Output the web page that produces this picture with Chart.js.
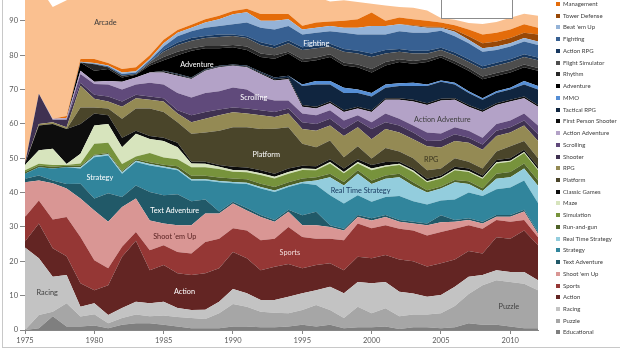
<!DOCTYPE html>
<html>
<head>
<meta charset="utf-8">
<script src="https://cdn.jsdelivr.net/npm/chart.js@4.4.1/dist/chart.umd.min.js"></script>
<style>
  html, body { margin: 0; padding: 0; background: #fff; }
  body { width: 620px; height: 350px; overflow: hidden; position: relative; font-family: Lato, "Open Sans", sans-serif; }
  #wrap { position: absolute; left: 0; top: -20px; width: 560px; height: 370px; }
  #frame { position: absolute; left: 2px; top: -2px; width: 700px; height: 349px; border-left: 1px solid #c8c8c8; border-bottom: 1px solid #c8c8c8; }
  #box { position: absolute; left: 441px; top: -2px; width: 70px; height: 19px; background: #fff; border: 1px solid #8c8c8c; }
  #legend { position: absolute; left: 556px; top: 0; width: 80px; height: 350px; }
  .item { position: absolute; left: 0; height: 8px; white-space: nowrap; font-size: 6px; line-height: 8px; color: #404040; }
  .item i { position: absolute; left: 0; top: 2px; width: 4px; height: 4px; }
  .item span { position: absolute; left: 7px; top: 0; }
</style>
</head>
<body>
<div id="frame"></div>
<div id="wrap"><canvas id="chart" width="560" height="370"></canvas></div>
<div id="box"></div>
<div id="legend"></div>
<script>
// years on the x axis
const years = [1975, 1976, 1977, 1978, 1979, 1980, 1981, 1982, 1983, 1984, 1985, 1986, 1987, 1988, 1989,
    1990, 1991, 1992, 1993, 1994, 1995, 1996, 1997, 1998, 1999, 2000, 2001, 2002, 2003, 2004,
    2005, 2006, 2007, 2008, 2009, 2010, 2011, 2012];

// top edge of every band (%), bottom band first
const educational = [0, 0.5, 4, 1, 1, 1.3, 0.5, 1.5, 2, 2, 1.5, 1, 0.5, 0.5, 0.5, 1, 1, 0.8, 0.8, 1, 1.5, 1, 1.5, 0.5, 0.8, 0.8, 1, 0.3, 0.8, 0.8, 0.5, 0.8, 2, 1.5, 1.5, 1, 0.5, 0.5];
const puzzle = [0, 4.4, 5.3, 7.8, 3.9, 4.6, 2, 3.5, 4.5, 4, 4.2, 3.8, 3.5, 3.2, 4.9, 7.6, 6.8, 5.3, 5, 4.9, 5.8, 7.3, 5.8, 3.5, 6.8, 4.9, 6.3, 4, 4.5, 4.5, 4.9, 7, 10.5, 13, 14.5, 14, 13.5, 11.6];
const racing = [24, 20.9, 15.5, 16, 6.8, 7.8, 4.4, 6.4, 8.2, 7.8, 8.2, 6.4, 5.8, 5.9, 8.2, 11.9, 10.7, 8.7, 8.7, 9.7, 10.7, 11.6, 12.6, 10.7, 14, 13.6, 14, 11.1, 10.6, 9.7, 10.2, 12.6, 15.5, 16, 17.4, 16.9, 16.9, 14.5];
const action = [25.8, 31, 23.8, 21.5, 13.6, 11.6, 13, 21.3, 26, 17.4, 18.9, 16.5, 16, 16.5, 18, 22.7, 20.9, 17.4, 18.4, 19.2, 18, 18.9, 19.4, 17.4, 21.3, 20.9, 21.8, 20.5, 20, 18.5, 19.4, 20.5, 23, 22.3, 27, 26.6, 29, 24.7];
const sports = [32.9, 37.7, 32.2, 32.9, 27.1, 20.3, 18, 24.2, 28.5, 23.2, 24.7, 22.7, 22.3, 25.6, 26.6, 29.6, 29, 26.1, 26.6, 30, 27.1, 26.6, 26.6, 26.1, 31, 29.6, 30.5, 29.5, 29, 27.5, 28.5, 29.5, 30.5, 29.5, 32, 31.5, 32, 27];
const shootEmUp = [43, 43.5, 42.7, 41.2, 38.3, 34.8, 31.5, 35.8, 38.3, 31.9, 31, 30.5, 30.5, 33.9, 33.9, 36.8, 34.8, 32.9, 31.5, 34.4, 30.5, 30.5, 30, 29, 32.9, 31.9, 32.9, 31.5, 31, 30.5, 31.4, 31.5, 32, 31, 33, 33, 34.5, 28];
const textAdventure = [44, 45, 43.5, 42.5, 42.6, 38.3, 39.8, 38.7, 42.1, 40.2, 39.2, 39.5, 37.5, 38, 34.5, 37.3, 35.5, 33.5, 32, 35, 33.4, 34.4, 30.5, 29.5, 33.5, 32.5, 33.5, 32, 31.5, 31, 33.4, 32, 32.5, 31.5, 33.5, 33.5, 35, 28.5];
const strategy = [45.5, 47.4, 47, 47.4, 47, 50.3, 50.8, 45.5, 48.9, 47.9, 47.2, 46.5, 43.5, 43.5, 43, 42.7, 42.5, 41.2, 40.2, 41.6, 42.7, 42.2, 39.2, 36.8, 39.2, 37.3, 38.7, 39, 37.5, 36.5, 37.7, 38, 40, 39, 41, 41.5, 43.5, 37];
const realTimeStrategy = [45.5, 47.4, 47, 47.4, 47.4, 50.7, 51.2, 45.9, 49.3, 48.3, 47.6, 46.9, 43.9, 43.9, 43.4, 43.1, 42.9, 41.6, 40.6, 42, 43.1, 43.5, 44.5, 42.1, 45.5, 42.5, 44, 44.5, 42, 40, 41.2, 43, 42.5, 40.5, 44, 44.5, 47, 42];
const runAndGun = [46, 47.9, 47.5, 47.8, 47.8, 51, 51.5, 46.3, 49.7, 48.8, 48.1, 47.7, 44.9, 44.9, 44.4, 44.1, 43.9, 42.6, 41.6, 43, 44.1, 44.5, 45.5, 43.1, 46.5, 43.5, 45, 45.5, 43, 40.7, 41.8, 43.7, 43.3, 41.3, 45.5, 46, 48.5, 43.5];
const simulation = [46.5, 48.4, 48, 48, 48.5, 54.2, 54.5, 48.3, 50.5, 51.5, 50.2, 49.7, 47.4, 47.4, 46.9, 46.1, 45.9, 45.1, 44.1, 45.5, 46.6, 46.5, 48.5, 45.6, 48.5, 46.5, 47.5, 48, 46, 43, 44.1, 46.5, 46, 44, 48.5, 49, 51.5, 46.5];
const maze = [48, 52.3, 52.8, 48.3, 51.3, 59.5, 60, 53.2, 57.1, 55.6, 55, 53.2, 48.5, 48.4, 47.5, 46.6, 46.4, 45.6, 44.6, 46, 47, 46.9, 48.9, 46, 48.9, 47, 47.9, 48.4, 46.4, 43.3, 44.4, 46.8, 46.3, 44.3, 48.8, 49.3, 51.8, 46.8];
const classicGames = [48.5, 59.5, 60, 58.5, 60, 63, 62.5, 56, 58, 56.5, 56, 54.5, 49, 49, 48, 47.5, 47.3, 46.5, 45.5, 47, 47.8, 47.7, 49.7, 47, 49.7, 48, 48.9, 49, 47, 44, 45, 47.5, 47, 45, 49.5, 50, 52.5, 47.5];
const platform = [48.5, 59.5, 60, 58.5, 64.8, 64.8, 64.5, 61.5, 64.5, 64.5, 63.5, 60.5, 57.1, 57.5, 58, 59, 59, 58.5, 58.6, 59, 54.2, 53.2, 55.2, 50.3, 53.5, 49.9, 53, 52, 50, 46.5, 47, 50, 49, 47, 52, 53.5, 55, 50];
const rpg = [48.5, 60, 60.5, 59, 71.1, 67.3, 66.5, 65, 67.5, 67, 66.5, 63, 60.5, 61.5, 62.5, 63.4, 63, 62.5, 62, 63, 58.5, 58, 59.5, 56.5, 59, 55.5, 58.5, 57.5, 55.5, 53.5, 53.1, 55, 54.5, 52.5, 56.5, 57.5, 59.5, 55];
const shooter = [48.5, 68.8, 61.2, 61.2, 72, 68.5, 68, 66.5, 68.5, 68, 67.5, 64, 62.5, 63.5, 64.2, 64.8, 64.5, 64, 63.5, 64.5, 60.5, 60, 61.5, 58.5, 61, 58.5, 60.5, 59.5, 57.5, 55, 55.2, 57, 56, 54, 58, 59, 61, 57];
const scrolling = [48.5, 68.8, 61.2, 61.2, 74.5, 71.6, 71.5, 70, 71.5, 72, 71.5, 69, 67.7, 69, 69.5, 70.6, 70, 67.7, 66.8, 66.8, 63, 62.5, 64, 61, 62.5, 60.5, 63, 61.5, 59.5, 57.5, 57.2, 59, 58, 56, 60, 61, 63, 59.5];
const actionAdventure = [48.5, 68.8, 61.5, 61.7, 75.5, 72.3, 72.5, 72.3, 73.5, 75, 75, 74, 73.1, 75.5, 76.5, 76.9, 76.5, 74.5, 72.6, 73, 65, 64.5, 66, 63.5, 64.5, 63.5, 67, 67, 66.5, 65.5, 66.8, 67, 65, 63.5, 65.5, 66.5, 67.5, 65];
const firstPersonShooter = [48.5, 68.8, 61.5, 61.7, 75.5, 72.3, 72.5, 72.3, 73.5, 75, 75.3, 74.3, 73.3, 75.7, 76.7, 77.1, 76.7, 74.8, 73, 73.4, 65.5, 65, 66.5, 64, 65, 64, 67.5, 67.5, 67, 66, 67.3, 67.5, 65.5, 64, 66, 67, 68, 65.5];
const tacticalRpg = [48.5, 68.8, 61.5, 61.7, 75.5, 72.3, 72.5, 72.3, 73.5, 75, 75.5, 74.6, 73.5, 75.9, 76.9, 77.3, 77, 75.2, 73.5, 74, 71, 71.5, 71.5, 69, 69, 68, 70.5, 71, 71, 71, 72.3, 71.5, 69, 67, 69, 70, 71.5, 70];
const mmo = [48.5, 68.8, 61.5, 61.7, 75.5, 72.3, 72.5, 72.3, 73.5, 75, 75.5, 74.6, 73.5, 75.9, 76.9, 77.3, 77, 75.2, 73.5, 74, 71.5, 72.5, 72.5, 70.5, 70, 69, 71.5, 71.8, 72, 71.5, 72.6, 72, 69.5, 67.5, 69.5, 70.5, 72.5, 71];
const adventure = [48.5, 68.8, 61.5, 61.7, 77.9, 75.5, 76, 73.5, 74.3, 77, 78.5, 80, 81.3, 82, 82, 82.3, 81.5, 79.5, 79, 80.5, 78, 78.5, 79.5, 77, 76.5, 75, 77, 78, 77.5, 78, 79.3, 77.5, 75.5, 73, 74, 75, 76.5, 75.5];
const rhythm = [48.5, 68.8, 61.5, 61.7, 77.9, 77.4, 76.5, 74, 74.5, 77.5, 79.5, 81, 82, 82.7, 82.7, 83, 82.5, 80.5, 80, 81, 78.8, 79.3, 80.3, 77.8, 77.3, 76, 78, 78.8, 78.3, 78.8, 80, 78.3, 76.3, 73.8, 74.8, 75.8, 77.3, 76.3];
const flightSimulator = [48.5, 68.8, 61.5, 61.7, 77.9, 77.4, 76.5, 74, 74.5, 78, 81, 83, 84.2, 85, 85.3, 85.6, 85, 83, 82, 83.5, 81.5, 82, 82.5, 81, 80.5, 79.5, 80.5, 81, 80.5, 80.5, 81.5, 80, 78, 76, 77, 78, 79.5, 78.5];
const actionRpg = [48.5, 68.8, 61.5, 61.7, 77.9, 77.4, 76.5, 74, 74.5, 78, 81.5, 83.7, 85, 85.6, 86, 86, 85.5, 83.8, 82.8, 84.3, 82.3, 82.8, 83.3, 81.8, 81.3, 80.5, 81.5, 81.8, 81.3, 81.3, 82.2, 80.8, 78.8, 76.8, 77.8, 78.8, 80.3, 79.3];
const fighting = [48.5, 68.8, 61.5, 61.7, 77.9, 77.5, 76.8, 74.5, 75, 78.5, 82.5, 85.5, 87, 88, 88.5, 89, 89.5, 88, 87.5, 88.5, 86, 86.5, 87, 86.5, 86, 86, 86, 87, 86.5, 86.5, 87.1, 85.5, 83.5, 81, 81.5, 82.5, 84, 83];
const beatEmUp = [48.5, 68.8, 61.5, 61.7, 78.1, 77.7, 77, 75, 75.3, 79, 83.5, 86.5, 88, 89.5, 90.5, 91.9, 92.5, 90, 90, 90.5, 87.5, 88, 88.5, 88, 88, 88.5, 88.5, 89, 88.5, 88, 88, 86.8, 84.5, 82, 82.5, 83.5, 85, 84];
const towerDefense = [48.5, 68.8, 61.5, 61.7, 78.1, 77.7, 77, 75, 75.3, 79, 83.5, 86.5, 88, 89.5, 90.5, 91.9, 92.5, 90, 90, 90.5, 87.5, 88, 88.5, 88, 88, 88.5, 88.5, 89, 88.7, 88.3, 88.2, 87.3, 85.5, 83.5, 84, 85, 86.5, 86];
const management = [48.5, 68.8, 61.5, 62.3, 78.9, 78.9, 77.7, 76, 76.5, 80, 84.5, 87.3, 88.9, 90.5, 91.5, 92.9, 93.5, 92, 92, 92, 88.6, 89.5, 89.8, 90, 90.5, 92.4, 90, 91, 90.5, 90, 89.5, 88.7, 87.5, 86, 86.5, 87.5, 89, 88];
const arcade = [100, 100, 94, 96, 100, 100, 100, 100, 100, 100, 100, 100, 100, 100, 100, 100, 100, 100, 100, 100, 100, 97, 95.6, 96, 95.5, 95, 94.5, 94, 93.8, 93, 90.8, 90.3, 89.4, 89.1, 89.7, 90.9, 92.1, 91.5];

// label, values, colour
const bands = [
    ['Educational', educational, '#7f7f7f'],
    ['Puzzle', puzzle, '#a6a6a6'],
    ['Racing', racing, '#c3c3c3'],
    ['Action', action, '#632523'],
    ['Sports', sports, '#953735'],
    ["Shoot 'em Up", shootEmUp, '#d99694'],
    ['Text Adventure', textAdventure, '#215968'],
    ['Strategy', strategy, '#31859c'],
    ['Real Time Strategy', realTimeStrategy, '#93cddd'],
    ['Run-and-gun', runAndGun, '#4f6228'],
    ['Simulation', simulation, '#77933c'],
    ['Maze', maze, '#d7e4bd'],
    ['Classic Games', classicGames, '#0d0d0d'],
    ['Platform', platform, '#4a452a'],
    ['RPG', rpg, '#948a54'],
    ['Shooter', shooter, '#3f3151'],
    ['Scrolling', scrolling, '#604a7b'],
    ['Action Adventure', actionAdventure, '#b3a2c7'],
    ['First Person Shooter', firstPersonShooter, '#0d0d0d'],
    ['Tactical RPG', tacticalRpg, '#10253f'],
    ['MMO', mmo, '#558ed5'],
    ['Adventure', adventure, '#000000'],
    ['Rhythm', rhythm, '#262626'],
    ['Flight Simulator', flightSimulator, '#4d4d4d'],
    ['Action RPG', actionRpg, '#17375e'],
    ['Fighting', fighting, '#376092'],
    ["Beat 'em Up", beatEmUp, '#95b3d7'],
    ['Tower Defense', towerDefense, '#984807'],
    ['Management', management, '#e46c0a'],
    ['Arcade', arcade, '#fac090']
];

// names written on the areas
const areaLabels = [
    {text: 'Arcade', year: 1980.8, value: 89.4, color: '#3a3a3a'},
    {text: 'Adventure', year: 1987.4, value: 77.2, color: '#ffffff'},
    {text: 'Fighting', year: 1996.0, value: 83.5, color: '#ffffff'},
    {text: 'Scrolling', year: 1991.5, value: 67.7, color: '#ffffff'},
    {text: 'Action Adventure', year: 2005.1, value: 61.3, color: '#404040'},
    {text: 'Platform', year: 1992.4, value: 51, color: '#ffffff'},
    {text: 'RPG', year: 2004.3, value: 49.6, color: '#3a3520'},
    {text: 'Strategy', year: 1980.4, value: 44.4, color: '#ffffff'},
    {text: 'Real Time Strategy', year: 1999.2, value: 40.6, color: '#17375e'},
    {text: 'Text Adventure', year: 1985.8, value: 34.8, color: '#ffffff'},
    {text: "Shoot 'em Up", year: 1985.8, value: 27.3, color: '#5a2323'},
    {text: 'Sports', year: 1994.1, value: 22.6, color: '#f2dcdb'},
    {text: 'Action', year: 1986.5, value: 11.3, color: '#ffffff'},
    {text: 'Racing', year: 1976.6, value: 11, color: '#404040'},
    {text: 'Puzzle', year: 2009.9, value: 6.8, color: '#404040'}
];

const areaLabelPlugin = {
    id: 'areaLabels',
    afterDatasetsDraw(chart) {
        const ctx = chart.ctx;
        const xs = chart.scales.x, ys = chart.scales.y;
        ctx.save();
        ctx.font = '7.3px Lato';
        ctx.textAlign = 'center';
        ctx.textBaseline = 'middle';
        areaLabels.forEach(l => {
            ctx.fillStyle = l.color;
            ctx.fillText(l.text, xs.getPixelForValue(l.year), ys.getPixelForValue(l.value));
        });
        ctx.restore();
    }
};

const tickFont = {family: 'Lato', size: 7.5};

new Chart(document.getElementById('chart'), {
    type: 'line',
    data: {
        labels: years,
        datasets: bands.map(([label, data, color], i) => ({
            label: label,
            data: data,
            backgroundColor: color,
            borderColor: 'rgba(0,0,0,0)',
            borderWidth: 0,
            pointRadius: 0,
            tension: 0,
            fill: i === 0 ? 'origin' : '-1'
        }))
    },
    options: {
        responsive: false,
        animation: false,
        devicePixelRatio: 1,
        layout: {padding: {left: 0, right: 22, top: 6, bottom: 0}},
        plugins: {legend: {display: false}, tooltip: {enabled: false}},
        scales: {
            x: {
                type: 'linear',
                min: 1975,
                max: 2012,
                afterFit: s => { s.height = 20; },
                ticks: {stepSize: 5, includeBounds: false, color: '#595959', font: tickFont, padding: 2, maxRotation: 0,
                    callback: v => String(v)},
                grid: {drawOnChartArea: false, tickLength: 4, color: '#868686'},
                border: {color: '#868686'}
            },
            y: {
                min: 0,
                max: 100,
                afterFit: s => { s.width = 25; },
                ticks: {stepSize: 10, color: '#595959', font: tickFont, padding: 2},
                grid: {drawOnChartArea: false, tickLength: 5, color: '#868686'},
                border: {color: '#868686'}
            }
        }
    },
    plugins: [areaLabelPlugin]
});

// legend: top band first, as in the original
const legend = document.getElementById('legend');
bands.slice().reverse().forEach(([label, , color], i) => {
    const item = document.createElement('div');
    item.className = 'item';
    item.style.top = (-7.7 + 11.73 * i - 4) + 'px';
    item.innerHTML = '<i style="background:' + color + '"></i><span></span>';
    item.querySelector('span').textContent = label;
    legend.appendChild(item);
});
</script>
</body>
</html>
